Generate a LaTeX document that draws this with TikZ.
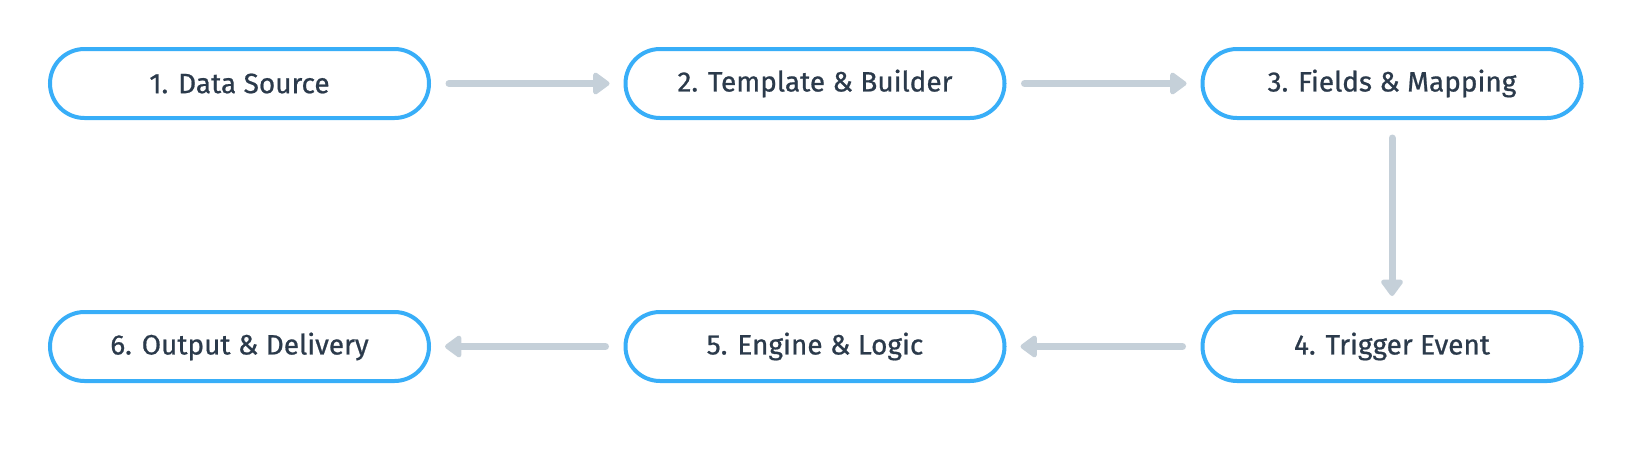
\documentclass[tikz,border=0pt]{standalone}
\usepackage{fontspec}
\setmainfont{Fira Sans}
\newfontfamily\stepfont{Fira Sans}[FakeBold=0.7]
\usepackage{tikz}
\usetikzlibrary{arrows.meta,positioning}
\definecolor{clrStep}{HTML}{38AEF8}
\definecolor{clrText}{HTML}{2B3A4B}
\definecolor{clrFlow}{HTML}{C5D0D9}
\tikzset{
  stepbox/.style={rectangle, rounded corners=17.25pt, line width=2pt,
    draw=clrStep, fill=white, minimum width=189.5pt, minimum height=34.5pt,
    align=center, inner sep=0pt, text=clrText,
    font=\stepfont\fontsize{14}{16}\selectfont},
  flow/.style={-{Triangle[length=9pt, width=12.5pt, round]}, line width=3.5pt,
    line cap=round, clrFlow, shorten <=9pt, shorten >=7pt},
}
\begin{document}
\begin{tikzpicture}[x=0.5pt, y=-0.5pt]

\useasboundingbox (0,0) rectangle (1632,456);

\def\xa{239.5}
\def\xb{815}
\def\xc{1392}
\def\ytop{83.5}
\def\ybot{346.5}

% ── top row ────────────────────────────────────────────────────────────────
\node[stepbox] (s1) at (\xa, \ytop) {1. Data Source};
\node[stepbox] (s2) at (\xb, \ytop) {2. Template \& Builder};
\node[stepbox] (s3) at (\xc, \ytop) {3. Fields \& Mapping};

% ── bottom row ─────────────────────────────────────────────────────────────
\node[stepbox] (s4) at (\xc, \ybot) {4. Trigger Event};
\node[stepbox] (s5) at (\xb, \ybot) {5. Engine \& Logic};
\node[stepbox] (s6) at (\xa, \ybot) {6. Output \& Delivery};

% ── flow ───────────────────────────────────────────────────────────────────
\draw[flow] (s1) -- (s2);
\draw[flow] (s2) -- (s3);
\draw[flow] (s3) -- (s4);
\draw[flow] (s4) -- (s5);
\draw[flow] (s5) -- (s6);

\end{tikzpicture}
\end{document}
